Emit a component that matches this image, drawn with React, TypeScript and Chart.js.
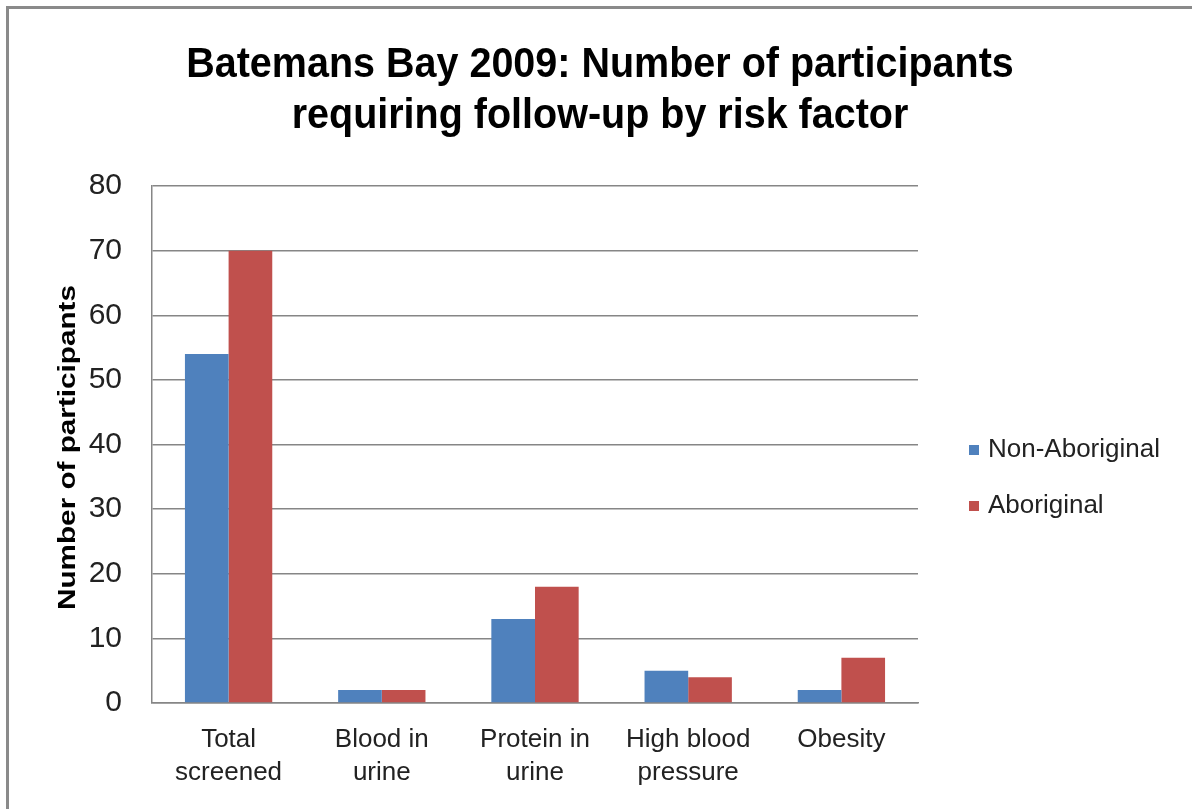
import React, { useEffect, useRef } from "react";
import { Chart, registerables } from "chart.js";

Chart.register(...registerables);

const categories: string[][] = [
  ["Total", "screened"],
  ["Blood in", "urine"],
  ["Protein in", "urine"],
  ["High blood", "pressure"],
  ["Obesity"],
];
const nonAboriginal: number[] = [54, 2, 13, 5, 2];
const aboriginal: number[] = [70, 2, 18, 4, 7];
const seriesNames: string[] = ["Non-Aboriginal", "Aboriginal"];
const seriesColors: string[] = ["#4F81BD", "#C0504D"];
const titleLines: string[] = [
  "Batemans Bay 2009: Number of participants",
  "requiring follow-up by risk factor",
];
const yAxisTitle = "Number of participants";

const FONT = "'Liberation Sans', Arial, sans-serif";

const legendPlugin = {
  id: "customLegend",
  afterDraw(chart: any) {
    const ctx = chart.ctx;
    ctx.save();
    ctx.font = `26px ${FONT}`;
    ctx.textBaseline = "middle";
    ctx.textAlign = "left";
    const x0 = chart.chartArea.right + 51;
    const ys = [450, 506];
    seriesNames.forEach((name, i) => {
      ctx.fillStyle = seriesColors[i];
      ctx.fillRect(x0, ys[i] - 5, 10, 10);
      ctx.fillStyle = "#222";
      ctx.fillText(name, x0 + 19, ys[i]);
    });
    ctx.restore();
  },
};

const textPlugin = {
  id: "customTexts",
  afterDraw(chart: any) {
    const ctx = chart.ctx;
    // Title
    ctx.save();
    ctx.font = `bold 39.5px ${FONT}`;
    ctx.fillStyle = "#000";
    ctx.textAlign = "center";
    ctx.textBaseline = "alphabetic";
    const baselines = [77, 128];
    titleLines.forEach((line, i) => {
      ctx.save();
      ctx.translate(600, baselines[i]);
      ctx.scale(1, 1.08);
      ctx.fillText(line, 0, 0);
      ctx.restore();
    });
    ctx.restore();
    // Y axis title
    ctx.save();
    ctx.font = `bold 24px ${FONT}`;
    ctx.fillStyle = "#000";
    ctx.textAlign = "center";
    ctx.textBaseline = "alphabetic";
    const area = chart.chartArea;
    const w = ctx.measureText(yAxisTitle).width;
    ctx.translate(75, (area.top + area.bottom) / 2 + 3);
    ctx.rotate(-Math.PI / 2);
    ctx.scale(325 / w, 1);
    ctx.fillText(yAxisTitle, 0, 0);
    ctx.restore();
  },
};

export default function App() {
  const ref = useRef<HTMLCanvasElement>(null);
  useEffect(() => {
    if (!ref.current) return;
    const chart = new Chart(ref.current, {
      type: "bar",
      data: {
        labels: categories,
        datasets: [
          {
            label: seriesNames[0],
            data: nonAboriginal,
            backgroundColor: seriesColors[0],
            categoryPercentage: 0.57,
            barPercentage: 1,
          },
          {
            label: seriesNames[1],
            data: aboriginal,
            backgroundColor: seriesColors[1],
            categoryPercentage: 0.57,
            barPercentage: 1,
          },
        ],
      },
      options: {
        animation: false,
        responsive: false,
        layout: { padding: { left: 0, right: 274, top: 186, bottom: 0 } },
        plugins: {
          legend: { display: false },
          tooltip: { enabled: false },
          title: { display: false },
        },
        scales: {
          x: {
            grid: { display: false, drawTicks: false },
            border: { color: "#868686", width: 1.5 },
            ticks: {
              color: "#222",
              font: { family: FONT, size: 26, lineHeight: 1.27 },
              padding: 20,
              maxRotation: 0,
              autoSkip: false,
            },
            afterFit(scale: any) {
              scale.height = 809 - 703;
            },
          },
          y: {
            min: 0,
            max: 80,
            ticks: {
              stepSize: 10,
              color: "#222",
              font: { family: FONT, size: 30 },
              padding: 30,
            },
            grid: { color: "#868686", lineWidth: 1.5, drawTicks: false },
            border: { color: "#868686", width: 1.5 },
            afterFit(scale: any) {
              scale.width = 152;
            },
          },
        },
      },
      plugins: [legendPlugin, textPlugin],
    });
    return () => chart.destroy();
  }, []);
  return (
    <div style={{ position: "fixed", left: 0, top: 0, width: 1192, height: 809, background: "#fff", overflow: "hidden" }}>
      <canvas ref={ref} width={1192} height={809} style={{ position: "absolute", left: 0, top: 0 }} />
      <div
        style={{
          position: "absolute",
          left: 6,
          top: 6,
          width: 1200,
          height: 820,
          border: "3px solid #8a8a8a",
          pointerEvents: "none",
        }}
      />
    </div>
  );
}
